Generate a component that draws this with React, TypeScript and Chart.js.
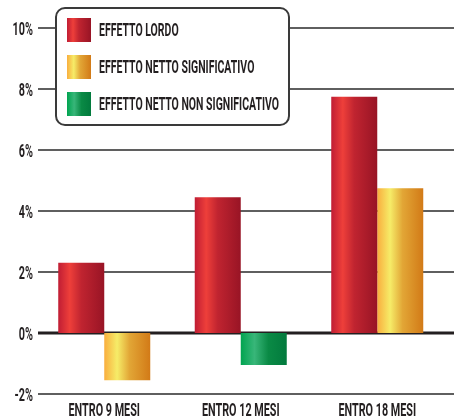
import React, { useEffect, useRef } from "react";
import { Chart, registerables } from "chart.js";

Chart.register(...registerables);

const categories = ["ENTRO 9 MESI", "ENTRO 12 MESI", "ENTRO 18 MESI"];
const seriesLabels = [
  "EFFETTO LORDO",
  "EFFETTO NETTO SIGNIFICATIVO",
  "EFFETTO NETTO NON SIGNIFICATIVO",
];
const effettoLordo = [2.3, 4.45, 7.75];
const nettoSignificativo: (number | null)[] = [-1.55, null, 4.75];
const nettoNonSignificativo: (number | null)[] = [null, -1.05, null];
const yMin = -2;
const yMax = 10;
const yStep = 2;

const palettes: [number, string][][] = [
  [[0, "#c01d34"], [0.25, "#ee3f3a"], [0.5, "#c02430"], [1, "#981425"]],
  [[0, "#f9ae3e"], [0.28, "#f6ec68"], [0.55, "#e2a636"], [1, "#d27a17"]],
  [[0, "#00a450"], [0.3, "#38b679"], [0.6, "#0a8a45"], [1, "#027a3d"]],
];

const TEXT_FONT = '"Roboto", "Liberation Sans", sans-serif';
const SX = 0.6;
const TEXT_COLOR = "#231f20";

function condensedText(
  ctx: CanvasRenderingContext2D,
  text: string,
  x: number,
  y: number,
  align: CanvasTextAlign,
  size: number
) {
  ctx.save();
  ctx.font = `bold ${size}px ${TEXT_FONT}`;
  ctx.fillStyle = TEXT_COLOR;
  ctx.textBaseline = "alphabetic";
  ctx.textAlign = align;
  ctx.translate(x, y);
  ctx.scale(SX, 1);
  ctx.fillText(text, 0, 0);
  ctx.restore();
}

function makeGradient(ctx: CanvasRenderingContext2D, x0: number, x1: number, di: number) {
  const g = ctx.createLinearGradient(x0, 0, x1, 0);
  palettes[di].forEach(([o, c]) => g.addColorStop(o, c));
  return g;
}

const customPlugin = {
  id: "customDraw",
  beforeDatasetsDraw(chart: any) {
    const { ctx, chartArea } = chart;
    const y = chart.scales.y;
    y.ticks.forEach((t: any) => {
      const py = y.getPixelForValue(t.value);
      ctx.save();
      ctx.strokeStyle = t.value === 0 ? "#231f20" : "#5f5f5f";
      ctx.lineWidth = t.value === 0 ? 3 : 2;
      ctx.beginPath();
      ctx.moveTo(chartArea.left + 2, py);
      ctx.lineTo(chart.width, py);
      ctx.stroke();
      ctx.restore();
    });
    chart.data.datasets.forEach((_ds: any, di: number) => {
      const meta = chart.getDatasetMeta(di);
      meta.data.forEach((el: any) => {
        const { x, width } = el.getProps(["x", "width"], true);
        if (!isFinite(x) || !isFinite(width)) return;
        const g = makeGradient(ctx, x - width / 2, x + width / 2, di);
        el.options = { ...el.options, backgroundColor: g };
      });
    });
  },
  afterDatasetsDraw(chart: any) {
    const { ctx } = chart;
    const y = chart.scales.y;
    const x = chart.scales.x;
    // y tick labels
    y.ticks.forEach((t: any) => {
      const py = y.getPixelForValue(t.value);
      condensedText(ctx, `${t.value}%`, chart.chartArea.left - 3, py + 6.5, "right", 18);
    });
    // x labels
    x.ticks.forEach((_t: any, i: number) => {
      const px = x.getPixelForTick(i);
      condensedText(ctx, String(chart.data.labels[i]), px, 416, "center", 18);
    });
    // legend
    const bx = 56, by = 8, bw = 233, bh = 117, r = 9;
    ctx.save();
    ctx.beginPath();
    ctx.moveTo(bx + r, by);
    ctx.arcTo(bx + bw, by, bx + bw, by + bh, r);
    ctx.arcTo(bx + bw, by + bh, bx, by + bh, r);
    ctx.arcTo(bx, by + bh, bx, by, r);
    ctx.arcTo(bx, by, bx + bw, by, r);
    ctx.closePath();
    ctx.fillStyle = "#ffffff";
    ctx.fill();
    ctx.strokeStyle = "#3a3a3a";
    ctx.lineWidth = 2;
    ctx.stroke();
    ctx.restore();
    chart.data.datasets.forEach((ds: any, di: number) => {
      const cy = 30 + di * 37;
      ctx.save();
      ctx.fillStyle = makeGradient(ctx, 67, 91, di);
      ctx.fillRect(67, cy - 12, 24, 24);
      ctx.restore();
      condensedText(ctx, ds.label, 99, cy + 6, "left", 17.5);
    });
  },
};

export default function App() {
  const ref = useRef<HTMLCanvasElement | null>(null);
  useEffect(() => {
    if (!ref.current) return;
    const chart = new Chart(ref.current, {
      type: "bar",
      data: {
        labels: categories,
        datasets: [
          { label: seriesLabels[0], data: effettoLordo },
          { label: seriesLabels[1], data: nettoSignificativo },
          { label: seriesLabels[2], data: nettoNonSignificativo },
        ] as any,
      },
      options: {
        animation: false,
        responsive: false,
        maintainAspectRatio: false,
        devicePixelRatio: 1,
        layout: { padding: { top: 28, right: 8.5, left: 0, bottom: 0 } },
        datasets: {
          bar: {
            skipNull: true,
            categoryPercentage: 0.674,
            barPercentage: 1,
            borderWidth: 0,
          },
        } as any,
        plugins: { legend: { display: false }, tooltip: { enabled: false } },
        scales: {
          x: {
            grid: { display: false },
            border: { display: false },
            ticks: { display: false },
            afterFit: (s: any) => {
              s.height = 23;
            },
          },
          y: {
            min: yMin,
            max: yMax,
            ticks: { display: false, stepSize: yStep },
            grid: { display: false },
            border: { display: false },
            afterFit: (s: any) => {
              s.width = 36;
            },
          },
        },
      },
      plugins: [customPlugin],
    });
    return () => chart.destroy();
  }, []);
  return (
    <div style={{ position: "fixed", left: 0, top: 0, width: 454, height: 417, background: "#fff" }}>
      <canvas ref={ref} width={454} height={417} />
    </div>
  );
}
